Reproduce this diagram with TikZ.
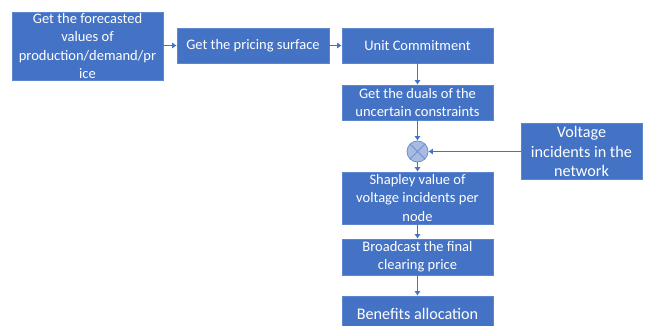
\documentclass[tikz,border=0pt]{standalone}
\usepackage{fontspec}
\setmainfont{Carlito}
\usetikzlibrary{arrows.meta}
\definecolor{boxblue}{HTML}{4472C4}
\definecolor{boxedge}{HTML}{5B86D0}
\definecolor{sumfill}{HTML}{A8BCE2}
\definecolor{sumedge}{HTML}{6F90CC}
\tikzset{
  x=1pt,y=-1pt,
  stepbox/.style={draw=boxedge,line width=0.8pt,fill=boxblue,text=white,inner sep=1pt,align=center,font=\fontsize{14.5}{18.2}\selectfont},
  bigtext/.style={font=\fontsize{16.2}{19.5}\selectfont},
  flow/.style={draw=boxblue,line width=1.9pt,-{Latex[length=4.5pt,width=6.5pt]}},
  sumnode/.style={circle,draw=sumedge,fill=sumfill,line width=0.8pt,minimum size=21pt,inner sep=0pt},
  sumcross/.style={draw=sumedge,line width=0.8pt}
}
\begin{document}
\begin{tikzpicture}
\useasboundingbox (0,0) rectangle (646,325);
\node[stepbox,minimum width=151pt,minimum height=68pt] (fc) at (87.5,46) {Get the forecasted\\values of\\production/demand/pr\\ice};
\node[stepbox,minimum width=152pt,minimum height=35pt] (ps) at (253,45.5) {Get the pricing surface};
\node[stepbox,minimum width=151pt,minimum height=35pt] (uc) at (417.5,45.5) {Unit Commitment};
\node[stepbox,minimum width=151pt,minimum height=35pt] (du) at (417.5,102.5) {Get the duals of the\\uncertain constraints};
\node[sumnode] (sumc) at (417.5,151.5) {};
\draw[sumcross] (sumc.45) -- (sumc.225) (sumc.135) -- (sumc.315);
\node[stepbox,bigtext,minimum width=121pt,minimum height=56pt] (vi) at (581.5,151.5) {Voltage\\incidents in the\\network};
\node[stepbox,minimum width=151pt,minimum height=52pt] (sh) at (417.5,198) {Shapley value of\\voltage incidents per\\node};
\node[stepbox,minimum width=151pt,minimum height=36pt] (bc) at (417.5,257) {Broadcast the final\\clearing price};
\node[stepbox,bigtext,minimum width=151pt,minimum height=36pt] (ba) at (417.5,314) {Benefits allocation};
\draw[flow] (fc.east |- ps.west) -- (ps.west);
\draw[flow] (ps) -- (uc);
\draw[flow] (uc) -- (du);
\draw[flow] (du) -- (sumc);
\draw[flow] (vi) -- (sumc);
\draw[flow] (sumc) -- (sh);
\draw[flow] (sh) -- (bc);
\draw[flow] (bc) -- (ba);
\end{tikzpicture}
\end{document}
